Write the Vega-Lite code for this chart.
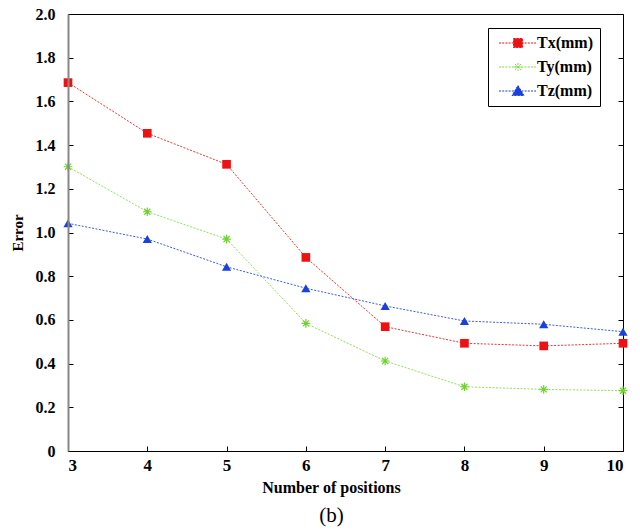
{
  "$schema": "https://vega.github.io/schema/vega-lite/v6.json",
  "width": 555,
  "height": 437,
  "autosize": "none",
  "padding": {"left": 68, "top": 14, "right": 17, "bottom": 80},
  "background": "white",
  "config": {
    "view": {"stroke": "#000", "strokeWidth": 1},
    "font": "Liberation Serif"
  },
  "title": {
    "text": "(b)",
    "orient": "bottom",
    "font": "Liberation Serif",
    "fontSize": 21,
    "fontWeight": "normal",
    "color": "#000",
    "offset": 10,
    "dx": -14
  },
  "data": {
    "values": [
      {"n": 3, "series": "Tx(mm)", "error": 1.686},
      {"n": 4, "series": "Tx(mm)", "error": 1.454},
      {"n": 5, "series": "Tx(mm)", "error": 1.312},
      {"n": 6, "series": "Tx(mm)", "error": 0.886},
      {"n": 7, "series": "Tx(mm)", "error": 0.569},
      {"n": 8, "series": "Tx(mm)", "error": 0.493},
      {"n": 9, "series": "Tx(mm)", "error": 0.481},
      {"n": 10, "series": "Tx(mm)", "error": 0.493},
      {"n": 3, "series": "Ty(mm)", "error": 1.301},
      {"n": 4, "series": "Ty(mm)", "error": 1.095},
      {"n": 5, "series": "Ty(mm)", "error": 0.970},
      {"n": 6, "series": "Ty(mm)", "error": 0.584},
      {"n": 7, "series": "Ty(mm)", "error": 0.412},
      {"n": 8, "series": "Ty(mm)", "error": 0.294},
      {"n": 9, "series": "Ty(mm)", "error": 0.282},
      {"n": 10, "series": "Ty(mm)", "error": 0.276},
      {"n": 3, "series": "Tz(mm)", "error": 1.042},
      {"n": 4, "series": "Tz(mm)", "error": 0.970},
      {"n": 5, "series": "Tz(mm)", "error": 0.843},
      {"n": 6, "series": "Tz(mm)", "error": 0.745},
      {"n": 7, "series": "Tz(mm)", "error": 0.664},
      {"n": 8, "series": "Tz(mm)", "error": 0.595},
      {"n": 9, "series": "Tz(mm)", "error": 0.580},
      {"n": 10, "series": "Tz(mm)", "error": 0.546}
    ]
  },
  "layer": [
    {
      "mark": {"type": "point", "filled": true, "opacity": 0, "strokeWidth": 1},
      "encoding": {
        "x": {"field": "n", "type": "quantitative"},
        "y": {"field": "error", "type": "quantitative", "axis": null},
        "color": {
          "field": "series", "type": "nominal",
          "legend": {
            "title": null,
            "orient": "none",
            "legendX": 420,
            "legendY": 14,
            "direction": "vertical",
            "strokeColor": "#000",
            "fillColor": "#fff",
            "padding": 7,
            "rowPadding": 8,
            "symbolSize": 100,
            "symbolOffset": 15,
            "symbolOpacity": 1,
            "symbolFillColor": "#fff",
            "symbolStrokeWidth": 1,
            "symbolDash": [2, 1.2],
            "labelOffset": 11,
            "labelFont": "Liberation Serif", "labelFontWeight": "bold", "labelFontSize": 16, "labelColor": "#000",
            "labelLimit": 200
          }
        },
        "stroke": {
          "field": "series", "type": "nominal",
          "scale": {"domain": ["Tx(mm)", "Ty(mm)", "Tz(mm)"], "range": ["#ee1111", "#7fdc3a", "#1a40e0"]},
          "legend": {"title": null, "symbolFillColor": "#fff", "symbolOpacity": 1}
        },
        "shape": {
          "field": "series", "type": "nominal",
          "scale": {
            "domain": ["Tx(mm)", "Ty(mm)", "Tz(mm)"],
            "range": [
              "M -3.8 0 L 3.6 0 M -0.9 -0.9 L 0.9 -0.9 L 0.9 0.9 L -0.9 0.9 Z",
              "M -3.8 0 L 3.6 0 M -0.8 0 L 0.8 0 M 0 -0.8 L 0 0.8 M -0.6 -0.6 L 0.6 0.6 M -0.6 0.6 L 0.6 -0.6",
              "M -3.8 0 L 3.6 0 M 0 -1.1 L 1.2 0.9 L -1.2 0.9 Z"
            ]
          },
          "legend": {"title": null, "symbolFillColor": "#fff", "symbolOpacity": 1}
        }
      }
    },
    {
      "mark": {"type": "line", "strokeWidth": 1, "strokeDash": [2, 1.5], "opacity": 0.85},
      "encoding": {
        "x": {
          "field": "n", "type": "quantitative",
          "scale": {"domain": [3, 10], "nice": false, "zero": false},
          "axis": {
            "values": [3, 4, 5, 6, 7, 8, 9, 10],
            "format": "d",
            "grid": false,
            "labelFont": "Liberation Serif", "labelFontWeight": "bold", "labelFontSize": 17, "labelColor": "#000",
            "labelPadding": 11,
            "tickSize": -5, "tickColor": "#000",
            "domainColor": "#000", "domainWidth": 1,
            "title": "Number of positions",
            "titleFont": "Liberation Serif", "titleFontWeight": "bold", "titleFontSize": 16, "titleColor": "#000",
            "titlePadding": 6,
            "titleX": 263,
            "zindex": 1
          }
        },
        "y": {
          "field": "error", "type": "quantitative",
          "scale": {"domain": [0, 2], "nice": false},
          "axis": {
            "orient": "right",
            "values": [0, 0.2, 0.4, 0.6, 0.8, 1.0, 1.2, 1.4, 1.6, 1.8, 2.0],
            "grid": false,
            "labels": false,
            "domain": false,
            "tickSize": -5, "tickColor": "#000",
            "title": null,
            "zindex": 1
          }
        },
        "color": {
          "field": "series", "type": "nominal",
          "scale": {"domain": ["Tx(mm)", "Ty(mm)", "Tz(mm)"], "range": ["#ee1111", "#7fdc3a", "#1a40e0"]},
          "legend": null
        }
      }
    },
    {
      "transform": [{"filter": "datum.series === 'Tx(mm)'"}],
      "mark": {"type": "point", "shape": "square", "filled": true, "opacity": 1, "size": 75, "color": "#ee1111"},
      "encoding": {
        "x": {"field": "n", "type": "quantitative"},
        "y": {
          "field": "error", "type": "quantitative",
          "axis": {
            "orient": "left",
            "values": [0, 0.2, 0.4, 0.6, 0.8, 1.0, 1.2, 1.4, 1.6, 1.8, 2.0],
            "labelExpr": "datum.value == 0 ? '0' : format(datum.value, '.1f')",
            "grid": false,
            "labelFont": "Liberation Serif", "labelFontWeight": "bold", "labelFontSize": 16, "labelColor": "#000",
            "labelPadding": 18,
            "tickSize": -5, "tickColor": "#000",
            "domainColor": "#888", "domainWidth": 2,
            "title": "Error",
            "titleFont": "Liberation Serif", "titleFontWeight": "bold", "titleFontSize": 15, "titleColor": "#000",
            "titlePadding": 10,
            "zindex": 1
          }
        }
      }
    },
    {
      "transform": [{"filter": "datum.series === 'Ty(mm)'"}],
      "mark": {"type": "point", "shape": "M -1 0 L 1 0 M 0 -1 L 0 1 M -0.7 -0.7 L 0.7 0.7 M -0.7 0.7 L 0.7 -0.7", "filled": false, "opacity": 1, "size": 75, "strokeWidth": 1.2, "color": "#6cd42a"},
      "encoding": {
        "x": {"field": "n", "type": "quantitative"},
        "y": {"field": "error", "type": "quantitative", "axis": null}
      }
    },
    {
      "transform": [{"filter": "datum.series === 'Tz(mm)'"}],
      "mark": {"type": "point", "shape": "triangle-up", "filled": true, "opacity": 1, "size": 85, "color": "#1a40e0"},
      "encoding": {
        "x": {"field": "n", "type": "quantitative"},
        "y": {"field": "error", "type": "quantitative", "axis": null}
      }
    }
  ],
  "resolve": {"axis": {"y": "independent"}}
}
